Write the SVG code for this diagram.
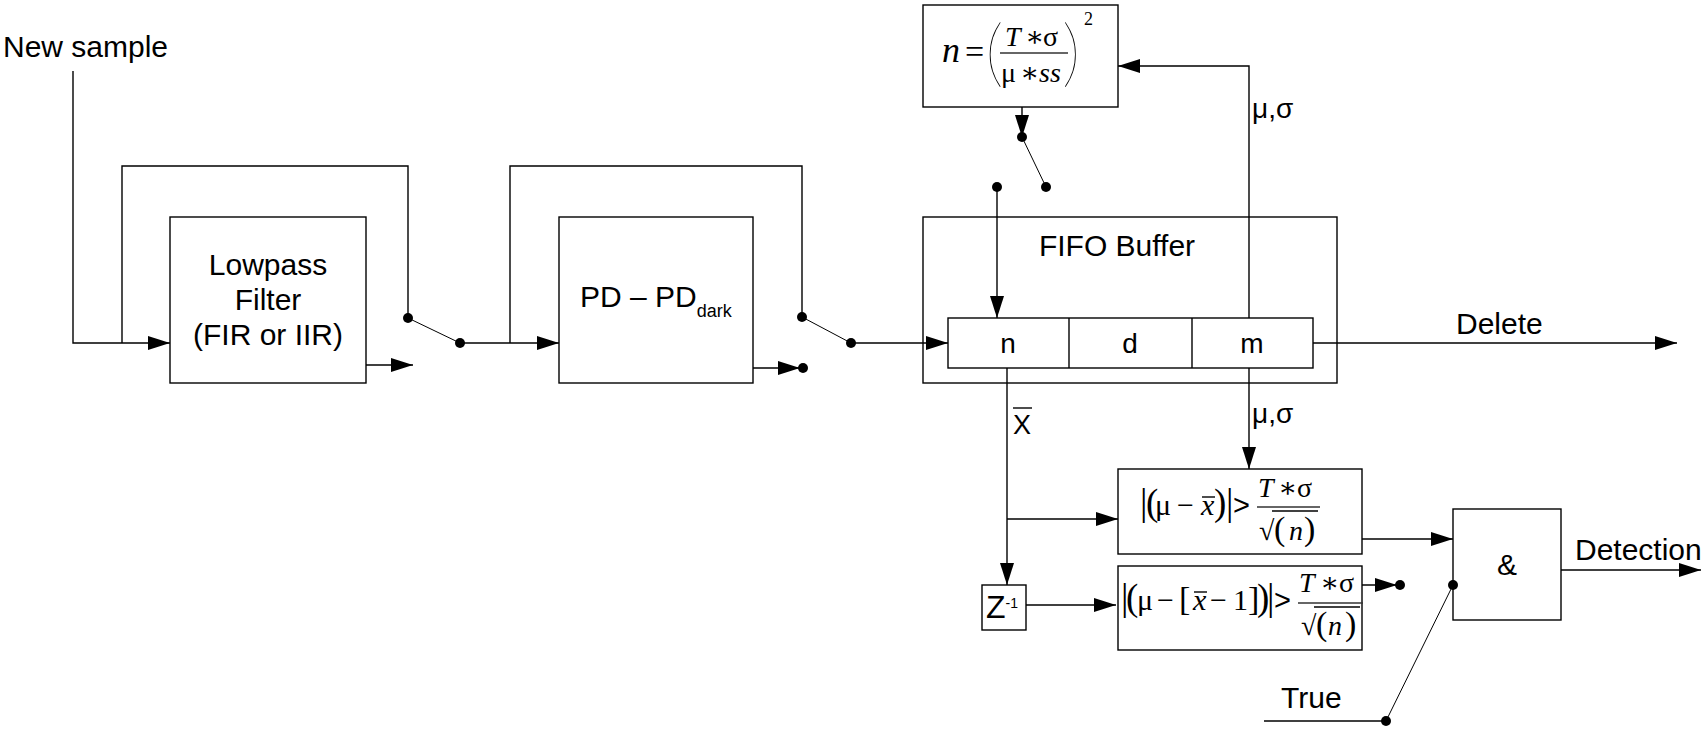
<svg xmlns="http://www.w3.org/2000/svg" width="1701" height="756" viewBox="0 0 1701 756">
<defs>
<marker id="ah" markerUnits="userSpaceOnUse" markerWidth="22" markerHeight="14" refX="22" refY="7" orient="auto">
<path d="M0,0 L22,7 L0,14 z" fill="#000"/>
</marker>
<style>
.box{fill:#fff;stroke:#000;stroke-width:1.4}
.ln{fill:none;stroke:#000;stroke-width:1.4}
.sw{fill:none;stroke:#000;stroke-width:1}
.dot{fill:#000}
.t{font-family:"Liberation Sans",Arial,sans-serif;font-size:30px;fill:#000}
.m{font-family:"Liberation Serif","DejaVu Serif",serif;font-size:27px;fill:#000}
.bp{font-family:Lato,"DejaVu Sans",sans-serif;font-weight:100;font-size:74px;fill:#000}
.i{font-style:italic}
.bar{stroke:#333;stroke-width:1.6}
</style>
</defs>
<rect width="1701" height="756" fill="#fff"/>

<g id="lowpass">
<rect class="box" x="170" y="217" width="196" height="166"/>
<text class="t" x="268" y="275" text-anchor="middle">Lowpass</text>
<text class="t" x="268" y="310" text-anchor="middle">Filter</text>
<text class="t" x="268" y="345" text-anchor="middle">(FIR or IIR)</text>
</g>

<g id="pd">
<rect class="box" x="559" y="217" width="194" height="166"/>
<text class="t" x="580" y="307">PD – PD<tspan style="font-size:18px" dy="10">dark</tspan></text>
</g>

<g id="fifo">
<rect class="box" x="923" y="217" width="414" height="166"/>
<text class="t" x="1117" y="256" text-anchor="middle">FIFO Buffer</text>
<rect class="box" x="948" y="318" width="365" height="50"/>
<line class="ln" x1="1069" y1="318" x2="1069" y2="368"/>
<line class="ln" x1="1192" y1="318" x2="1192" y2="368"/>
<text class="t" x="1008" y="353" style="font-size:28px" text-anchor="middle">n</text>
<text class="t" x="1130" y="353" style="font-size:28px" text-anchor="middle">d</text>
<text class="t" x="1252" y="353" style="font-size:28px" text-anchor="middle">m</text>
</g>

<g id="nformula">
<rect class="box" x="923" y="5" width="195" height="102"/>
<text class="m i" x="942" y="62" style="font-size:36px">n</text>
<text class="m" x="965" y="63" style="font-size:34px">=</text>
<text class="bp" x="985" y="78">(</text>
<text class="m" y="46" style="font-size:28px"><tspan class="i" x="1005">T</tspan><tspan x="1025">∗</tspan><tspan x="1043">σ</tspan></text>
<line class="bar" x1="1000" y1="53" x2="1068" y2="53"/>
<text class="m" y="82" style="font-size:28px"><tspan x="1001">μ</tspan><tspan x="1020">∗</tspan><tspan class="i" x="1039">ss</tspan></text>
<text class="bp" x="1062" y="78">)</text>
<text class="m" x="1084" y="25" style="font-size:18px">2</text>
</g>

<g id="cmp1">
<rect class="box" x="1118" y="469" width="244" height="85"/>
<text class="m" y="515" style="font-size:30px"><tspan x="1140" style="font-size:37px">|</tspan><tspan x="1146" style="font-size:37px">(</tspan><tspan x="1155">μ</tspan><tspan x="1177">−</tspan><tspan class="i" x="1201">x</tspan><tspan x="1214" style="font-size:37px">)</tspan><tspan x="1226" style="font-size:37px">|</tspan></text>
<line class="ln" x1="1202" y1="497" x2="1215" y2="497"/>
<text class="t" x="1233" y="515" style="font-size:29px">&gt;</text>
<text class="m" y="497" style="font-size:28px"><tspan class="i" x="1258">T</tspan><tspan x="1278">∗</tspan><tspan x="1297">σ</tspan></text>
<line class="bar" x1="1257" y1="507" x2="1320" y2="507"/>
<text class="m" x="1259" y="540" style="font-size:28px">√</text>
<line class="ln" x1="1272" y1="511" x2="1318" y2="511"/>
<text class="m" y="540" style="font-size:28px"><tspan x="1274" style="font-size:34px">(</tspan><tspan class="i" x="1289">n</tspan><tspan x="1304" style="font-size:34px">)</tspan></text>
</g>

<g id="cmp2">
<rect class="box" x="1118" y="566" width="244" height="84"/>
<text class="m" y="610" style="font-size:30px"><tspan x="1121" style="font-size:37px">|</tspan><tspan x="1126" style="font-size:37px">(</tspan><tspan x="1137">μ</tspan><tspan x="1157">−</tspan><tspan x="1179" style="font-size:34px">[</tspan><tspan class="i" x="1193">x</tspan><tspan x="1210">−</tspan><tspan x="1233">1</tspan><tspan x="1248" style="font-size:34px">]</tspan><tspan x="1257" style="font-size:37px">)</tspan><tspan x="1267" style="font-size:37px">|</tspan></text>
<line class="ln" x1="1194" y1="592" x2="1207" y2="592"/>
<text class="t" x="1274" y="610" style="font-size:29px">&gt;</text>
<text class="m" y="592" style="font-size:28px"><tspan class="i" x="1299">T</tspan><tspan x="1320">∗</tspan><tspan x="1339">σ</tspan></text>
<line class="bar" x1="1298" y1="603" x2="1363" y2="603"/>
<text class="m" x="1301" y="635" style="font-size:28px">√</text>
<line class="ln" x1="1314" y1="607" x2="1360" y2="607"/>
<text class="m" y="635" style="font-size:28px"><tspan x="1316" style="font-size:34px">(</tspan><tspan class="i" x="1328">n</tspan><tspan x="1345" style="font-size:34px">)</tspan></text>
</g>

<g id="zdelay">
<rect class="box" x="982" y="585" width="44" height="45"/>
<text class="t" x="986" y="618" style="font-size:32px">Z<tspan style="font-size:14px" dy="-10">-1</tspan></text>
</g>

<g id="and">
<rect class="box" x="1453" y="509" width="108" height="111"/>
<text class="t" x="1507" y="575" text-anchor="middle">&amp;</text>
</g>

<g id="labels">
<text class="t" x="3" y="57">New sample</text>
<text class="t" x="1456" y="334">Delete</text>
<text class="t" x="1575" y="560">Detection</text>
<text class="t" x="1281" y="708">True</text>
<text class="t" x="1252" y="118" style="font-size:28px">μ,σ</text>
<text class="t" x="1252" y="423" style="font-size:28px">μ,σ</text>
<text class="t" x="1013" y="434" style="font-size:27px">X</text>
<line class="ln" x1="1013" y1="408" x2="1032" y2="408"/>
</g>

<g id="connectors">
<polyline class="ln" points="73,71 73,343 170,343" marker-end="url(#ah)"/>
<polyline class="ln" points="122,343 122,166 408,166 408,318"/>
<line class="ln" x1="366" y1="365" x2="413" y2="365" marker-end="url(#ah)"/>
<line class="sw" x1="408" y1="318" x2="460" y2="343"/>
<line class="ln" x1="460" y1="343" x2="559" y2="343" marker-end="url(#ah)"/>
<polyline class="ln" points="510,343 510,166 802,166 802,317"/>
<line class="ln" x1="753" y1="368" x2="800" y2="368" marker-end="url(#ah)"/>
<line class="sw" x1="802" y1="317" x2="851" y2="343"/>
<line class="ln" x1="851" y1="343" x2="948" y2="343" marker-end="url(#ah)"/>
<line class="ln" x1="1022" y1="107" x2="1022" y2="137" marker-end="url(#ah)"/>
<line class="sw" x1="1022" y1="137" x2="1046" y2="187"/>
<line class="ln" x1="997" y1="187" x2="997" y2="318" marker-end="url(#ah)"/>
<polyline class="ln" points="1249,318 1249,66 1118,66" marker-end="url(#ah)"/>
<line class="ln" x1="1313" y1="343" x2="1677" y2="343" marker-end="url(#ah)"/>
<line class="ln" x1="1249" y1="368" x2="1249" y2="469" marker-end="url(#ah)"/>
<line class="ln" x1="1007" y1="368" x2="1007" y2="585" marker-end="url(#ah)"/>
<line class="ln" x1="1007" y1="519" x2="1118" y2="519" marker-end="url(#ah)"/>
<line class="ln" x1="1026" y1="605" x2="1116" y2="605" marker-end="url(#ah)"/>
<line class="ln" x1="1362" y1="539" x2="1453" y2="539" marker-end="url(#ah)"/>
<line class="ln" x1="1362" y1="585" x2="1397" y2="585" marker-end="url(#ah)"/>
<line class="sw" x1="1453" y1="585" x2="1386" y2="721"/>
<line class="ln" x1="1264" y1="721" x2="1386" y2="721"/>
<line class="ln" x1="1561" y1="570" x2="1701" y2="570" marker-end="url(#ah)"/>
<circle class="dot" cx="408" cy="318" r="5"/>
<circle class="dot" cx="460" cy="343" r="5"/>
<circle class="dot" cx="802" cy="317" r="5"/>
<circle class="dot" cx="851" cy="343" r="5"/>
<circle class="dot" cx="803" cy="368" r="5"/>
<circle class="dot" cx="1022" cy="137" r="5"/>
<circle class="dot" cx="1046" cy="187" r="5"/>
<circle class="dot" cx="997" cy="187" r="5"/>
<circle class="dot" cx="1400" cy="585" r="5"/>
<circle class="dot" cx="1453" cy="585" r="5"/>
<circle class="dot" cx="1386" cy="721" r="5"/>
</g>
</svg>
